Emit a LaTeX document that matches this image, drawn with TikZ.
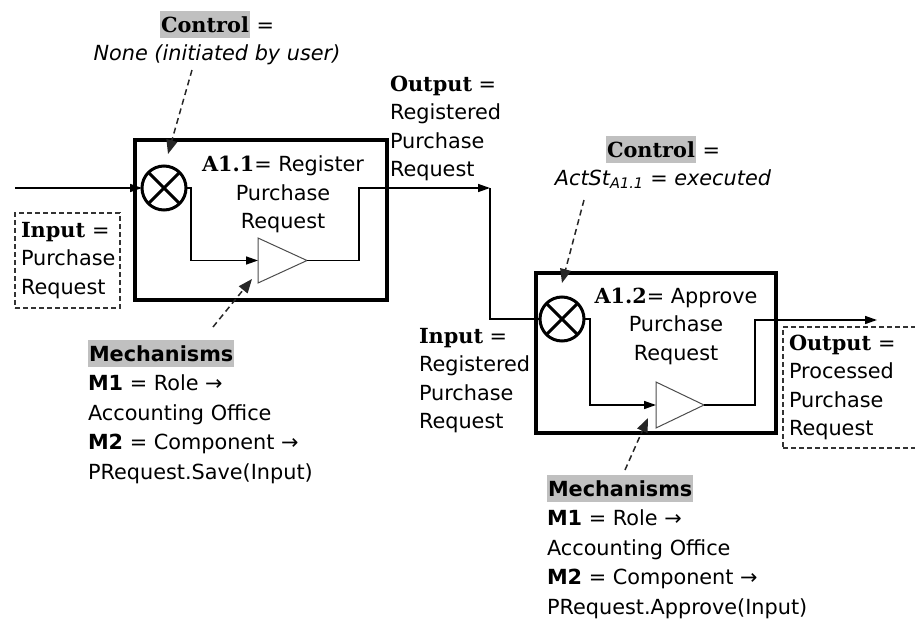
\documentclass[tikz,border=0pt]{standalone}
\usepackage{fontspec}
\setmainfont{DejaVu Sans}
\newfontfamily\sbfont{DejaVu Serif}
\usetikzlibrary{arrows.meta,calc}
\definecolor{hlgray}{RGB}{192,192,192}
\newcommand\hlbox[1]{{\setlength{\fboxsep}{0pt}\colorbox{hlgray}{\rule[-6pt]{0pt}{27pt}\kern1pt#1\kern1pt}}}
\newcommand\sbb[1]{{\sbfont\bfseries #1}}
\begin{document}
\begin{tikzpicture}[x=1pt,y=-1pt,
  every node/.style={font=\fontsize{20.8}{28.5}\selectfont, inner sep=0pt, outer sep=0pt},
  mechtext/.style={font=\fontsize{20.8}{29.5}\selectfont, align=left, anchor=north west},
  actbox/.style={draw, line width=3.8pt, anchor=north west},
  junction/.style={circle, draw, line width=3pt, minimum size=44pt},
  flow/.style={line width=1.5pt, -{Triangle[length=12pt,width=8pt]}},
  flowplain/.style={line width=1.5pt},
  ctrl/.style={line width=1.5pt, dash pattern=on 6pt off 4pt, draw=black!85, -{Triangle[length=14pt,width=11pt]}},
  dbox/.style={draw, dash pattern=on 5pt off 3pt, line width=1.2pt, draw=black!80, align=left, anchor=north west},
  amp/.style={draw=black!70, line width=1pt}
]
\useasboundingbox (0,0) rectangle (915,621);

% activity boxes
\node[actbox, minimum width=252pt, minimum height=160pt] (A1) at (135,140) {};
\node[actbox, minimum width=240pt, minimum height=160pt] (A2) at (536,273) {};

% junctions
\node[junction] (c1) at (164,188) {};
\draw[line width=3pt] (c1.north east) -- (c1.south west) (c1.north west) -- (c1.south east);
\node[junction] (c2) at (562,319) {};
\draw[line width=3pt] (c2.north east) -- (c2.south west) (c2.north west) -- (c2.south east);

% amplifier triangles
\coordinate (t1in) at (258,260.5);
\coordinate (t1out) at (307,260.5);
\draw[amp] (258,238) -- (t1out) -- (258,283) -- cycle;
\coordinate (t2in) at (656,405);
\coordinate (t2out) at (704,405);
\draw[amp] (656,382) -- (t2out) -- (656,428) -- cycle;

% titles
\node[align=center, anchor=north] (A1t) at (283,156) {\sbb{A1.1}= Register\\Purchase\\Request};
\node[align=center, anchor=north] (A2t) at (676,288) {\sbb{A1.2}= Approve\\Purchase\\Request};

% flows
\coordinate (in1) at (15,188);
\draw[flow] (in1) -- (c1.west);
\coordinate (j1) at (191,260.5);
\draw[flow] (c1.east) -| (j1) -- (t1in);
\coordinate (k1) at (359,188);
\coordinate (o1) at (490,188);
\draw[flow] (t1out) -| (k1) -- (o1);
\draw[flowplain] (o1) |- (c2.west);
\coordinate (j2) at (590,405);
\draw[flow] (c2.east) -| (j2) -- (t2in);
\coordinate (k2) at (755,320);
\coordinate (o2) at (877,320);
\draw[flow] (t2out) -| (k2) -- (o2);

% control / mechanism dashed arrows
\coordinate (ctl1s) at (192,70);
\coordinate (ctl1e) at (168,154);
\draw[ctrl] (ctl1s) -- (ctl1e);
\coordinate (mech1s) at (213,327);
\coordinate (mech1e) at (252,279);
\draw[ctrl] (mech1s) -- (mech1e);
\coordinate (ctl2s) at (584,200);
\coordinate (ctl2e) at (562,283);
\draw[ctrl] (ctl2s) -- (ctl2e);
\coordinate (mech2s) at (625,470);
\coordinate (mech2e) at (648,418);
\draw[ctrl] (mech2s) -- (mech2e);

% labels
\node[align=center, anchor=north] (ctl1) at (217,11) {\hlbox{\sbb{Control}} =\\\textit{None (initiated by user)}};
\node[align=left, anchor=north west] (out1) at (390,76) {\sbb{Output} =\\Registered\\Purchase\\Request};
\node[dbox, minimum width=105pt, minimum height=95pt, inner xsep=6pt, text width=93pt] (in1box) at (15,213) {\sbb{Input} =\\Purchase\\Request};
\node[align=left, anchor=north west] (in2) at (419,328) {\sbb{Input} =\\Registered\\Purchase\\Request};
\node[align=center, anchor=north] (ctl2) at (663,136) {\hlbox{\sbb{Control}} =\\\textit{ActSt\textsubscript{A1.1} = executed}};
\node[dbox, minimum height=121pt, inner xsep=6pt, text width=130pt] (out2box) at (783,327) {\sbb{Output} =\\Processed\\Purchase\\Request};
\node[mechtext] (mech1) at (88,340) {\hlbox{\bfseries Mechanisms}\\\textbf{M1} = Role →\\Accounting Office\\\textbf{M2} = Component →\\PRequest.Save(Input)};
\node[mechtext] (mech2) at (547,475) {\hlbox{\bfseries Mechanisms}\\\textbf{M1} = Role →\\Accounting Office\\\textbf{M2} = Component →\\PRequest.Approve(Input)};
\end{tikzpicture}
\end{document}
